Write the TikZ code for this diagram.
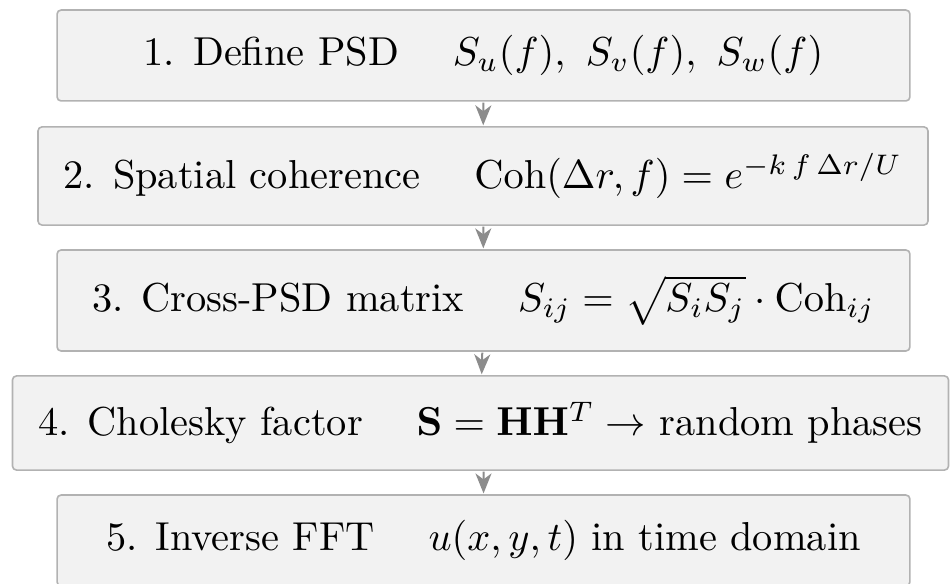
\documentclass[tikz,border=0pt]{standalone}
\usepackage{amsmath}
\usetikzlibrary{arrows.meta}
\tikzset{
  stepbox/.style={draw=black!30,fill=black!5,line width=0.8pt,rounded corners=2pt,
    inner sep=0pt,align=center,scale=2.02,transform shape},
  flowarrow/.style={draw=black!45,line width=1pt,-{Stealth[length=10pt,width=8pt,inset=3pt]}}
}
\begin{document}
\begin{tikzpicture}[x=0.5pt,y=0.5pt,font=\normalsize]
  \useasboundingbox (0,0) rectangle (950,584);
  \clip (0,0) rectangle (950,584);
  \node[stepbox,minimum width=211.1pt,minimum height=22.5pt] (psd) at (483.5,528.5)
    {1. Define PSD \quad$S_u(f),\ S_v(f),\ S_w(f)$};
  \node[stepbox,minimum width=220.3pt,minimum height=24.3pt] (coh) at (483,408)
    {2. Spatial coherence \quad$\mathrm{Coh}(\Delta r,f)=e^{-k\,f\,\Delta r/U}$};
  \node[stepbox,minimum width=211.1pt,minimum height=25pt] (cross) at (483.5,283.5)
    {3. Cross-PSD matrix \quad$S_{ij}=\sqrt{S_iS_j}\cdot\mathrm{Coh}_{ij}$};
  \node[stepbox,minimum width=231.7pt,minimum height=23.3pt] (chol) at (480.5,161)
    {4. Cholesky factor \quad$\mathbf{S}=\mathbf{H}\mathbf{H}^T\rightarrow$ random phases};
  \node[stepbox,minimum width=211.1pt,minimum height=22.5pt] (ifft) at (483.5,43.5)
    {5. Inverse FFT \quad$u(x,y,t)$ in time domain};
  \draw[flowarrow] (psd) -- (coh);
  \draw[flowarrow] (coh) -- (cross);
  \draw[flowarrow] (cross) -- (chol);
  \draw[flowarrow] (chol.south -| ifft.north) -- (ifft);
\end{tikzpicture}
\end{document}
